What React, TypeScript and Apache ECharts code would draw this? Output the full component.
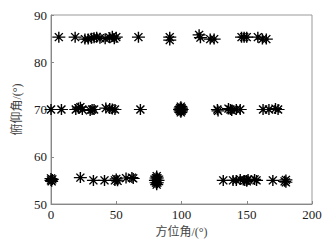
import React, { useEffect, useRef } from "react";
import * as echarts from "echarts";

const xTicks = [0, 50, 100, 150, 200];
const yTicks = [50, 60, 70, 80, 90];
const xName = "方位角/(°)";
const yName = "俯仰角/(°)";

const row85: [number, number][] = [
  [6, 85.3], [18.5, 85.3], [26, 84.9], [28.5, 84.9], [31, 85.1], [33, 85.2], [35, 85.3],
  [37.5, 85.1], [41.5, 85.0], [45, 85.2], [47, 85.5], [48.5, 85.0], [50, 85.3], [67, 85.3],
  [91, 85.3], [91, 84.7], [113.5, 85.8], [114.5, 85.2], [122, 84.9], [125, 84.9],
  [146, 85.3], [148, 85.3], [150, 85.3], [158.5, 85.3], [162, 84.9], [165, 84.9],
];

const row70: [number, number][] = [
  [0, 70], [8, 70], [19, 70], [21, 70.3], [22.5, 70.5], [24, 70], [30, 69.8], [31.5, 70],
  [33, 70], [42, 70.3], [45, 70.2], [47, 70.1], [49, 70], [68.5, 70],
  [98.5, 70], [99.5, 70.6], [99.5, 69.4], [100.5, 70], [99.5, 70], [99, 70.3], [100, 69.7],
  [99, 69.7], [100, 70.3],
  [127.5, 70], [128, 69.7], [136, 70.2], [137.5, 70], [138.5, 69.8], [142, 70], [145, 70],
  [162.5, 70], [167, 70], [172, 70.2], [174, 70],
];

const row55: [number, number][] = [
  [0, 55], [0, 55.4], [0.5, 54.8], [1, 55.2],
  [22.5, 55.6], [32.5, 55], [41, 55], [49, 55], [50, 55.3], [51, 54.9], [57.5, 55.5],
  [62, 55.6], [63, 55.4],
  [80, 55], [81, 55.9], [81, 54.1], [82, 55], [81, 55], [80.5, 55.5], [81.5, 54.5],
  [80.5, 54.5], [81.5, 55.5],
  [132, 55], [139.5, 55], [142, 55], [145, 55.2], [148.5, 55], [150, 55], [150, 54.8],
  [151, 55.2], [156, 55.2], [157.5, 55], [170, 55], [179, 54.8], [180, 55.1], [180, 54.6],
];

const starPath =
  "path://M0,5.5L13,5.5M6.5,0L6.5,11M2.5,1.5L10.5,9.5M10.5,1.5L2.5,9.5";

export default function App() {
  const ref = useRef<HTMLDivElement>(null);
  useEffect(() => {
    if (!ref.current) return;
    const chart = echarts.init(ref.current, null, { renderer: "svg" });
    const font = "'Liberation Serif', 'Times New Roman', serif";
    const cjk = "'Liberation Serif', 'Noto Sans CJK SC', serif";
    const axisCommon = {
      axisLine: { show: true, lineStyle: { color: "#888", width: 1 } },
      axisTick: { show: true, inside: true, length: 3, lineStyle: { color: "#888" } },
      splitLine: { show: false },
    };
    chart.setOption({
      animation: false,
      grid: {
        left: 51, right: 22, top: 15, bottom: 39,
        show: true, borderColor: "#999", borderWidth: 1, backgroundColor: "transparent",
      },
      xAxis: {
        type: "value", min: xTicks[0], max: xTicks[xTicks.length - 1], interval: 50,
        ...axisCommon,
        axisLabel: { color: "#222", fontSize: 13, fontFamily: font, margin: 4 },
        name: xName, nameLocation: "middle", nameGap: 20,
        nameTextStyle: { color: "#444", fontSize: 12, fontFamily: cjk },
      },
      yAxis: {
        type: "value", min: yTicks[0], max: yTicks[yTicks.length - 1], interval: 10,
        ...axisCommon,
        axisLabel: { color: "#222", fontSize: 13, fontFamily: font, margin: 4 },
        name: yName, nameLocation: "middle", nameGap: 27, nameRotate: 90,
        nameTextStyle: { color: "#444", fontSize: 12, fontFamily: cjk },
      },
      series: [row85, row70, row55].map((d) => ({
        type: "scatter",
        data: d,
        symbol: starPath,
        symbolSize: [13, 11],
        itemStyle: { color: "transparent", borderColor: "#000", borderWidth: 1.3, opacity: 1 },
        emphasis: { disabled: true },
      })),
    });
    return () => chart.dispose();
  }, []);
  return <div ref={ref} style={{ width: 334, height: 243, position: "absolute", left: 0, top: 0 }} />;
}
